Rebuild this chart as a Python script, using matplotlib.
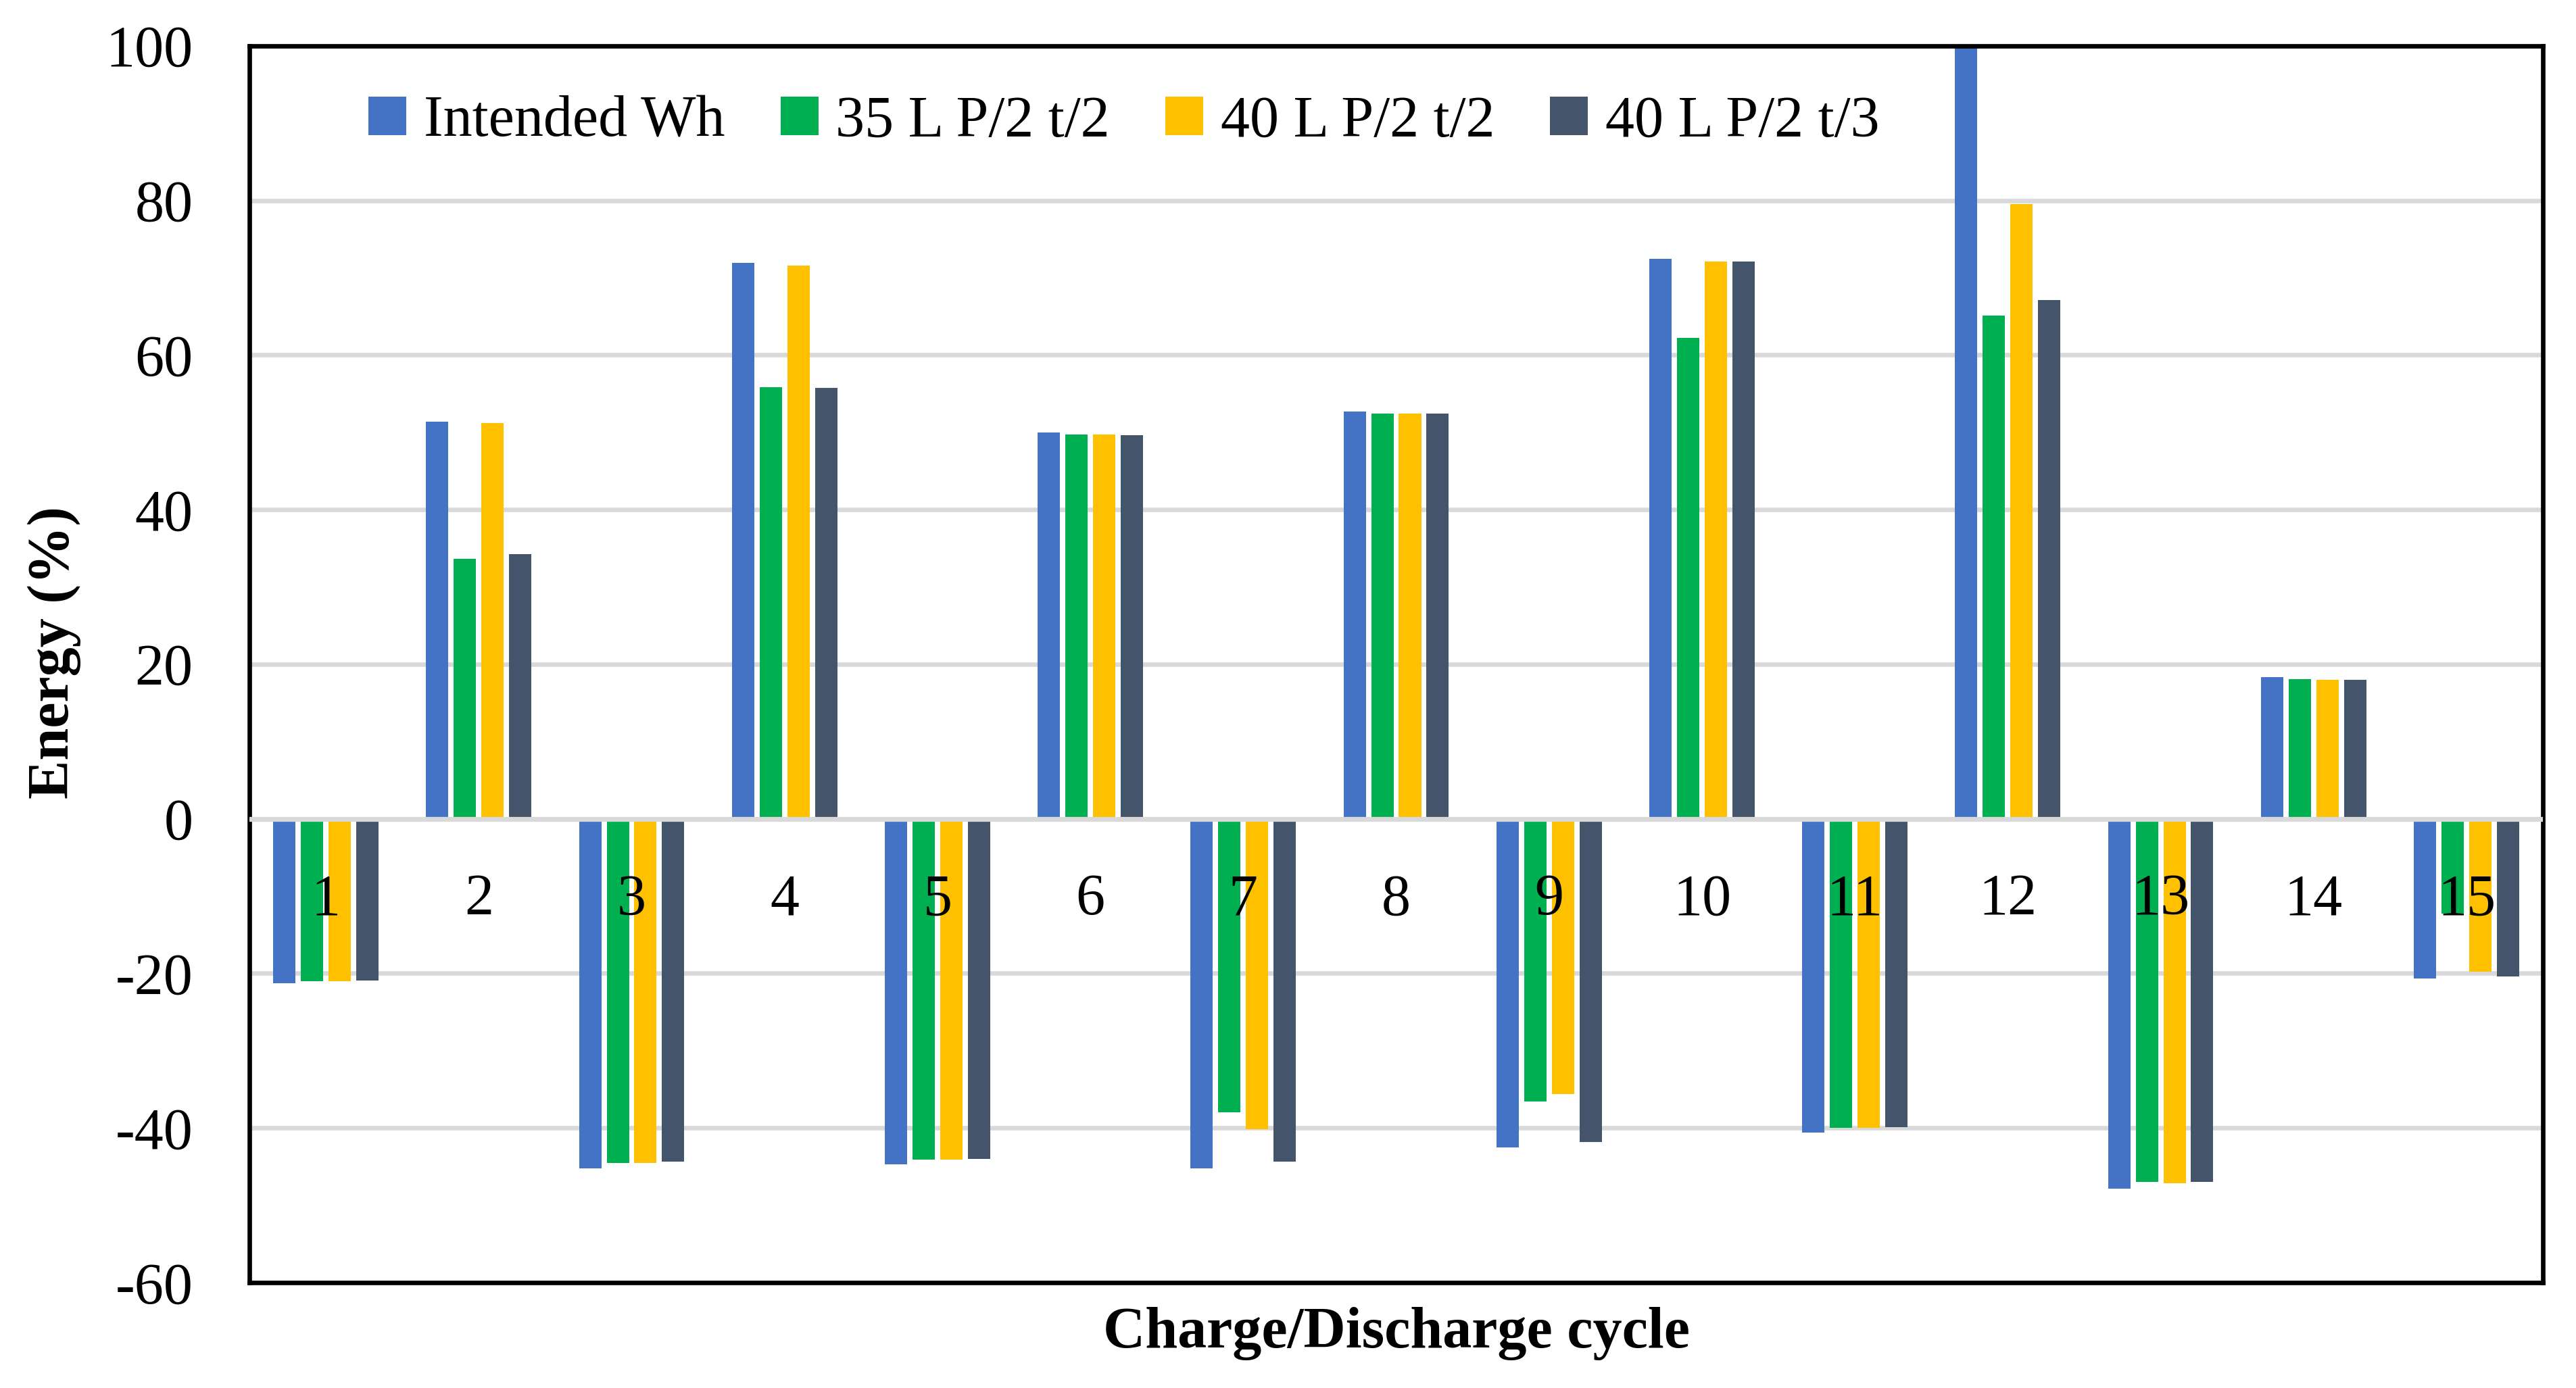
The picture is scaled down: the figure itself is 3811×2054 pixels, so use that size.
import numpy as np
import matplotlib
matplotlib.use('Agg')
import matplotlib.pyplot as plt
from matplotlib.patches import Patch

plt.rcParams['font.family'] = ['Liberation Serif', 'DejaVu Serif']

# === Data ===
cycles = list(range(1, 16))
series_names = ['Intended Wh', '35 L P/2 t/2', '40 L P/2 t/2', '40 L P/2 t/3']
intended_wh = [-21.3, 51.4, -45.2, 71.9, -44.7, 50.0, -45.2, 52.7, -42.5, 72.4, -40.6, 100.0, -47.9, 18.3, -20.7]
l35_p2_t2 = [-21.0, 33.6, -44.5, 55.8, -44.1, 49.75, -38.0, 52.4, -36.6, 62.2, -40.0, 65.1, -47.0, 18.1, -12.3]
l40_p2_t2 = [-21.0, 51.2, -44.5, 71.6, -44.1, 49.75, -40.2, 52.4, -35.6, 72.1, -40.0, 79.5, -47.2, 18.0, -19.8]
l40_p2_t3 = [-20.9, 34.2, -44.4, 55.7, -44.0, 49.66, -44.4, 52.4, -41.8, 72.1, -39.9, 67.1, -47.0, 18.0, -20.4]
y_ticks = [-60, -40, -20, 0, 20, 40, 60, 80, 100]

colors = ['#4472C4', '#00B050', '#FFC000', '#44546A']
all_series = [intended_wh, l35_p2_t2, l40_p2_t2, l40_p2_t3]

fs = 31
fig = plt.figure(figsize=(19.06, 10.27), dpi=200)
ax = fig.add_axes([0.0968, 0.0760, 0.8901, 0.8910])

x = np.array(cycles, dtype=float)
pitch = 0.181
width = 0.146
for i, (vals, col) in enumerate(zip(all_series, colors)):
    ax.bar(x + (i - 1.5) * pitch, vals, width=width, color=col, zorder=2)

ax.set_xlim(0.5, 15.5)
ax.set_ylim(-60, 100)
ax.set_yticks(y_ticks)
ax.set_yticklabels([str(t) for t in y_ticks], fontsize=fs)
ax.tick_params(axis='y', length=0, pad=30)
ax.set_xticks([])

# grid + zero axis line
for t in y_ticks[1:-1]:
    if t == 0:
        continue
    ax.axhline(t, color='#D9D9D9', lw=2.4, zorder=1)
ax.axhline(0, color='#D9D9D9', lw=2.6, zorder=3)

for sp in ax.spines.values():
    sp.set_color('black')
    sp.set_linewidth(2.4)

# category labels sit just below the zero line
for c in cycles:
    ax.annotate(str(c), xy=(c, 0), xytext=(0, -51), textcoords='offset points',
                ha='center', va='baseline', fontsize=fs, zorder=4)

handles = [Patch(facecolor=col, edgecolor='none') for col in colors]
ax.legend(handles, series_names, loc='center left', bbox_to_anchor=(0.052, 0.938),
          ncol=4, frameon=False, fontsize=fs, handlelength=0.65, handleheight=0.65,
          handletextpad=0.3, columnspacing=0.95, borderpad=0, borderaxespad=0)

fig.text(0.021, 0.530, 'Energy (%)', rotation=90, ha='center', va='center',
         fontsize=fs, fontweight='bold')
fig.text(0.0968 + 0.8901 / 2, 0.039, 'Charge/Discharge cycle', ha='center', va='center',
         fontsize=fs, fontweight='bold')

fig.savefig('out.png', dpi=200, facecolor='white')
